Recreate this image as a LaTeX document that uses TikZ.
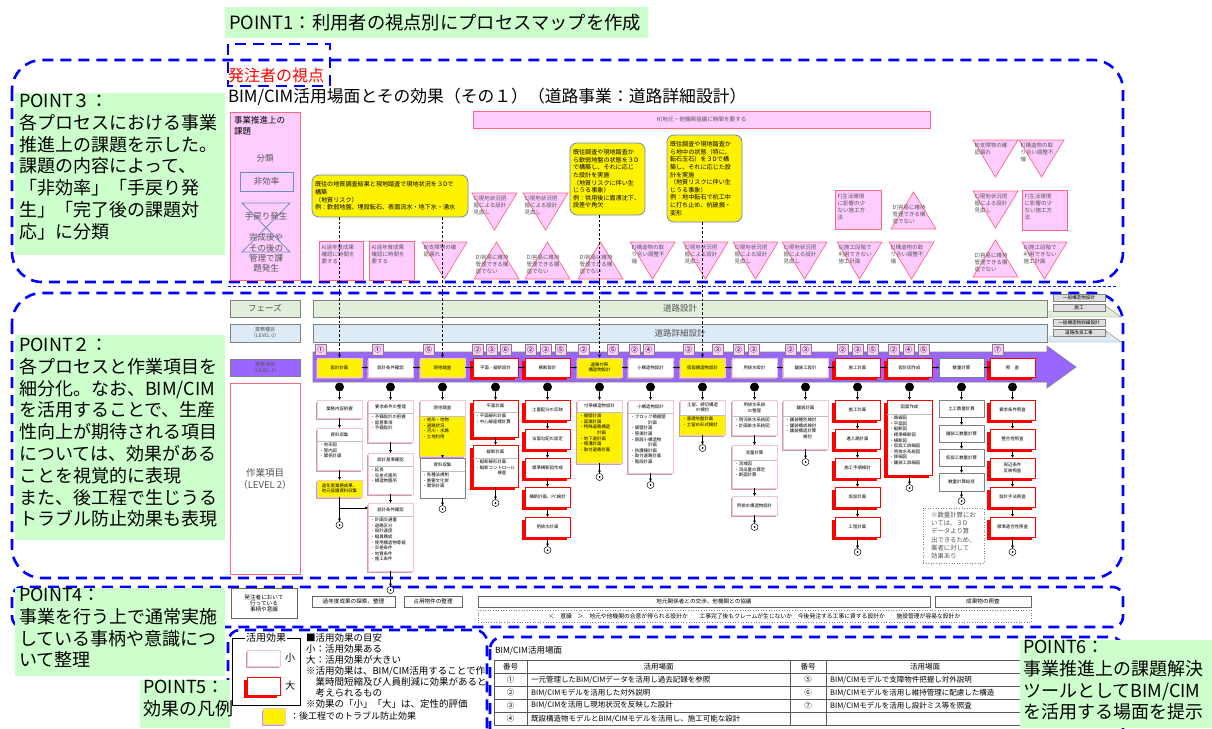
\documentclass[tikz,border=0pt]{standalone}
\usepackage{fontspec}
\setmainfont{Noto Sans CJK JP}
\usetikzlibrary{arrows.meta,shadows,calc}
\definecolor{ptgreen}{HTML}{CCFFCC}
\definecolor{pk}{HTML}{FFCCFF}
\definecolor{pkb}{HTML}{FF6680}
\definecolor{yb}{HTML}{6C8EBF}
\definecolor{purp}{HTML}{9966FF}
\definecolor{phg}{HTML}{E2EFDA}
\definecolor{phb}{HTML}{DDEBF7}
\definecolor{shp}{HTML}{C9A0A8}
\definecolor{lpk}{HTML}{F2C8D0}
\definecolor{ddblue}{HTML}{0000FF}
\definecolor{txg}{HTML}{555555}
\tikzset{
 every node/.style={inner sep=0pt, outer sep=0pt},
 bdash/.style={draw=ddblue, line width=2.6pt, dash pattern=on 11pt off 7pt},
 gtext/.style={anchor=north west, align=left, font=\fontsize{18}{21.8}\selectfont},
 tri/.style={fill=pk, draw=pkb, line width=0.7pt},
 tritext/.style={anchor=north west, align=left, font=\fontsize{5.5}{7}\selectfont, text=txg},
 ybox/.style={fill=yellow, draw=yb, line width=0.8pt, rounded corners=7pt, anchor=north west, align=left, font=\fontsize{6.1}{7.6}\selectfont, inner sep=3pt},
 pboxs/.style={fill=pk, draw=pkb, line width=0.9pt},
 bigb/.style={draw=red, line width=0.8pt, fill=white, drop shadow={shadow xshift=-3pt, shadow yshift=-3pt, fill=red, opacity=1}},
 smlb/.style={draw=lpk, line width=0.6pt, fill=white, drop shadow={shadow xshift=-1.5pt, shadow yshift=-1.5pt, fill=shp, opacity=1}},
 ysmlb/.style={smlb, fill=yellow},
 plnb/.style={draw=gray, line width=0.7pt, fill=white},
 tinyf/.style={font=\fontsize{4.4}{5.6}\selectfont},
 arr/.style={-{Latex[length=3pt,width=3pt]}, line width=0.5pt},
 vdash/.style={-{Latex[length=3.5pt,width=3.5pt]}, line width=0.7pt, dash pattern=on 2.5pt off 2pt},
 tab/.style={fill=pk, draw=gray, line width=0.4pt, anchor=north west, minimum size=11pt, font=\fontsize{7}{7}\selectfont},
 rlab/.style={fill=gray!25, draw=gray, line width=0.4pt, anchor=north west, minimum width=52pt, minimum height=7pt, font=\fontsize{4.6}{5}\selectfont},
 rowbox/.style={draw=gray!80!black, line width=0.6pt, anchor=north west, minimum height=11pt, font=\fontsize{5.6}{6}\selectfont},
}
\newcommand{\lvb}[8]{%
 \node[#1, anchor=north west, minimum width=45pt, minimum height=#5pt] (#2) at (#3,#4) {};
 \draw[gray!50, line width=0.4pt] ($(#2.north west)+(0,#6)$) -- ($(#2.north east)+(0,#6)$);
 \node[tinyf, align=center] (#2h) at ($(#2.north)+(0,#6/2)$) {#7};
 \node[tinyf, anchor=north west, align=left] (#2b) at ($(#2.north west)+(2.5,#6+2)$) {#8};
}
\newcommand{\lvy}[8]{%
 \node[#1, anchor=north west, minimum width=45pt, minimum height=#5pt] (#2) at (#3,#4) {};
 \fill[yellow] ($(#2.north west)+(0.4,#6)$) rectangle ($(#2.south east)+(-0.4,-0.4)$);
 \draw[gray!50, line width=0.4pt] ($(#2.north west)+(0,#6)$) -- ($(#2.north east)+(0,#6)$);
 \node[tinyf, align=center] (#2h) at ($(#2.north)+(0,#6/2)$) {#7};
 \node[tinyf, anchor=north west, align=left] (#2b) at ($(#2.north west)+(2.5,#6+2)$) {#8};
}
\newcommand{\lbx}[6]{%
 \node[#1, anchor=north west, minimum width=45pt, minimum height=#5pt, tinyf, align=center] (#2) at (#3,#4) {#6};
}
\newcommand{\termc}[3]{%
 \node[circle, draw, fill=white, line width=0.5pt, minimum size=7pt] (#1) at (#2,#3) {};
 \fill (#1.center) circle (1pt);
}
\newcommand{\dtri}[4]{%
 \draw[tri] (#2,#3) -- ++(45,0) -- ++(-22.5,37) -- cycle;
 \node[tritext] (#1) at (#2+1.5,#3+2.5) {#4};
}
\newcommand{\utri}[4]{%
 \draw[tri] (#2,#3+37) -- ++(45,0) -- ++(-22.5,-37) -- cycle;
 \node[tritext] (#1) at (#2+1.5,#3+13) {#4};
}
\newcommand{\pkrect}[6]{%
 \node[pboxs, anchor=north west, minimum width=#4pt, minimum height=#5pt] (#1) at (#2,#3) {};
 \node[tritext] (#1t) at ($(#1.north west)+(2.5,4)$) {#6};
}
\begin{document}
\begin{tikzpicture}[x=1pt,y=-1pt]
\useasboundingbox (0,0) rectangle (1212,728);
\fill[white] (0,0) rectangle (1212,728);

% ---------- dashed region frames ----------
\draw[bdash, rounded corners=30pt] (12,60) rectangle (1123,282);
\draw[bdash] (228,44) rectangle (330,86);
\draw[ddblue, densely dashed, line width=0.5pt] (228,286) -- (1118,286);
\draw[bdash, rounded corners=30pt] (12,293) rectangle (1123,578);
\draw[bdash, rounded corners=10pt] (12,587) rectangle (1123,627);
\draw[bdash, rounded corners=12pt] (228,630) rectangle (487,750);
\draw[bdash, rounded corners=12pt] (490,637) rectangle (1123,750);

% ---------- POINT boxes ----------
\fill[ptgreen] (225,7) rectangle (648,38);
\node[anchor=west, font=\fontsize{18.3}{20}\selectfont] (pt1) at (229,22.5) {POINT1：利用者の視点別にプロセスマップを作成};

\fill[ptgreen] (15,93) rectangle (225,255);
\node[gtext] (pt3) at (19,94) {POINT３：\\各プロセスにおける事業\\推進上の課題を示した。\\課題の内容によって、\\「非効率」「手戻り発\\生」「完了後の課題対\\応」に分類};

\fill[ptgreen] (15,335) rectangle (225,540);
\node[gtext] (pt2) at (19,338) {POINT２：\\各プロセスと作業項目を\\細分化。なお、BIM/CIM\\を活用することで、生産\\性向上が期待される項目\\については、効果がある\\ことを視覚的に表現\\また、後工程で生じうる\\トラブル防止効果も表現};

\fill[ptgreen] (15,588) rectangle (225,676);
\node[gtext] (pt4) at (19,588) {POINT4：\\事業を行う上で通常実施\\している事柄や意識につ\\いて整理};

\fill[ptgreen] (140,680) rectangle (230,728);
\node[gtext] (pt5) at (143,680) {POINT5：\\効果の凡例};

% ---------- titles ----------
\node[anchor=west, text=red, font=\fontsize{16}{17}\selectfont] (viewpt) at (228,75) {発注者の視点};
\node[anchor=west, font=\fontsize{16.8}{18}\selectfont] (title) at (228,97) {BIM/CIM活用場面とその効果（その１）（道路事業：道路詳細設計）};

% ---------- issue classification box ----------
\node[pboxs, anchor=north west, minimum width=70pt, minimum height=168pt] (kadai) at (230,112) {};
\node[anchor=north west, align=left, font=\fontsize{8.5}{11}\selectfont] (kadait) at (234,116) {事業推進上の\\課題};
\node[font=\fontsize{8.5}{10}\selectfont, text=txg] (bunrui) at (265,158) {分類};
\node[draw=yb, line width=0.8pt, minimum width=53pt, minimum height=19pt, font=\fontsize{8.5}{10}\selectfont, text=txg] (hikou) at (266.5,181.5) {非効率};
\draw[yb, line width=0.8pt] (242,203) -- (290,203) -- (242,252) -- (290,252) -- cycle;
\node[font=\fontsize{8.5}{10}\selectfont, text=txg] (temodori) at (266,216) {手戻り発生};
\node[align=center, font=\fontsize{8.5}{10.2}\selectfont, text=txg] (kansei) at (266,253) {完成後や\\その後の\\管理で課\\題発生};

\node[pboxs, anchor=north west, minimum width=457pt, minimum height=17pt, font=\fontsize{5.6}{6}\selectfont, text=txg] (hbox) at (473,111) {H)地元・他機関協議に時間を要する};

% yellow risk boxes
\node[ybox, minimum width=156pt, minimum height=42pt, text width=150pt] (yb1) at (312,175) {既往の地質調査結果と現地踏査で現地状況を３Dで\\構築\\（地質リスク）\\例：軟弱地盤、埋設転石、表面流水・地下水・湧水};
\node[ybox, minimum width=75pt, minimum height=72pt, text width=69pt] (yb2) at (570,143) {既往調査や現地踏査か\\ら軟弱地盤の状態を３D\\で構築し、それに応じ\\た設計を実施\\（地質リスクに伴い生\\じうる事象）\\例：供用後に面漂沈下、\\段差や角欠};
\node[ybox, minimum width=75pt, minimum height=87pt, text width=69pt] (yb3) at (667,135) {既往調査や現地踏査か\\ら地中の状態（特に、\\転石玉石）を３Dで構\\築し、それに応じた設\\計を実施\\（地質リスクに伴い生\\じうる事象）\\例：地中転石で杭工中\\に打ち止め、杭破損・\\変形};

% triangles and pink boxes: top row
\dtri{tB2}{973}{140}{B)支障物の確\\認漏れ}
\dtri{tE4}{1019}{140}{E)構造物の取\\り合い調整不\\備}
% middle row
\dtri{tC1}{472}{193}{C)現地状況把\\握による設計\\見直し}
\dtri{tC2}{523}{193}{C)現地状況把\\握による設計\\見直し}
\pkrect{fF1}{835}{190}{46}{39}{F)生活環境\\に影響の少\\ない施工方\\法}
\utri{tD4}{891}{192}{D)容易に維持\\管理できる構\\造でない}
\dtri{tC6}{973}{191}{C)現地状況把\\握による設計\\見直し}
\pkrect{fF2}{1022}{190}{45}{40}{F)生活環境\\に影響の少\\ない施工方\\法}
% bottom row
\pkrect{aA1}{319}{241}{44}{39}{A)過年度成果\\確認に時間を\\要する}
\pkrect{aA2}{369}{241}{45}{39}{A)過年度成果\\確認に時間を\\要する}
\dtri{tB1}{422}{242}{B)支障物の確\\認漏れ}
\utri{tD1}{474}{242}{D)容易に維持\\管理できる構\\造でない}
\utri{tD2}{525}{242}{D)容易に維持\\管理できる構\\造でない}
\utri{tD3}{578}{242}{D)容易に維持\\管理できる構\\造でない}
\dtri{tE1}{630}{242}{E)構造物の取\\り合い調整不\\備}
\dtri{tC3}{683}{242}{C)現地状況把\\握による設計\\見直し}
\dtri{tC4}{733}{242}{C)現地状況把\\握による設計\\見直し}
\dtri{tC5}{782}{242}{C)現地状況把\\握による設計\\見直し}
\dtri{tG1}{837}{242}{G)施工段階で\\利用できない\\施工計画}
\dtri{tE2}{889}{242}{E)構造物の取\\り合い調整不\\備}
\utri{tD5}{973}{240}{D)容易に維持\\管理できる構\\造でない}
\dtri{tG2}{1022}{242}{G)施工段階で\\利用できない\\施工計画}

% ---------- phase rows ----------
\node[fill=phg, draw=gray, line width=0.7pt, anchor=north west, minimum width=70pt, minimum height=17pt, font=\fontsize{8.5}{9}\selectfont, text=txg] (phase) at (230,300) {フェーズ};
\node[fill=phg, draw=gray, line width=0.7pt, anchor=north west, minimum width=734pt, minimum height=17pt, font=\fontsize{8.5}{9}\selectfont, text=txg] (phasebar) at (313,300) {道路設計};
\node[fill=phb, draw=gray, line width=0.7pt, anchor=north west, minimum width=70pt, minimum height=18pt, align=center, font=\fontsize{5}{6}\selectfont, text=txg] (lv0) at (230,324) {業務種目\\（LEVEL 0）};
\node[fill=phb, draw=gray, line width=0.7pt, anchor=north west, minimum width=734pt, minimum height=18pt, font=\fontsize{8.5}{9}\selectfont, text=txg] (lv0bar) at (313,324) {道路詳細設計};
\node[fill=purp, draw=gray, line width=0.7pt, anchor=north west, minimum width=70pt, minimum height=17pt, align=center, font=\fontsize{5}{6}\selectfont, text=txg] (lv1) at (230,359) {業務項目\\（LEVEL 1）};
\node[draw=pkb, line width=0.9pt, fill=white, anchor=north west, minimum width=70pt, minimum height=191pt, align=center, font=\fontsize{9.5}{12}\selectfont, text=txg] (lv2) at (230,383) {作業項目\\（LEVEL 2）};

% right side labels
\fill[phg, draw=gray, line width=0.4pt] (1049,311) -- (1106,311) -- (1106,306) -- (1121,317) -- (1049,317) -- cycle;
\node[rlab] (r1) at (1053,294) {一般構造物設計};
\node[rlab] (r2) at (1053,304) {施工};
\fill[phb, draw=gray, line width=0.4pt] (1049,336) -- (1106,336) -- (1106,331) -- (1121,342) -- (1049,342) -- cycle;
\node[rlab] (r3) at (1053,319) {一般構造物詳細設計};
\node[rlab] (r4) at (1053,329) {道路改良工事};

% ---------- purple process arrow ----------
\draw[fill=purp, draw=gray, line width=0.6pt] (313,352) -- (1047,352) -- (1047,346) -- (1076,367) -- (1047,388) -- (1047,382) -- (313,382) -- cycle;

\node[ysmlb, anchor=north west, minimum width=45pt, minimum height=19pt, tinyf, align=center] (p1) at (317,358) {設計計画};
\node[smlb, anchor=north west, minimum width=45pt, minimum height=19pt, tinyf, align=center] (p2) at (368,358) {設計条件確認};
\node[ysmlb, anchor=north west, minimum width=45pt, minimum height=19pt, tinyf, align=center] (p3) at (420,358) {現地踏査};
\node[bigb, anchor=north west, minimum width=45pt, minimum height=19pt, tinyf, align=center] (p4) at (473,358) {平面・縦断設計};
\node[bigb, anchor=north west, minimum width=45pt, minimum height=19pt, tinyf, align=center] (p5) at (525,358) {横断設計};
\node[ysmlb, anchor=north west, minimum width=45pt, minimum height=19pt, tinyf, align=center] (p6) at (577,358) {道路付帯\\構造物設計};
\node[smlb, anchor=north west, minimum width=45pt, minimum height=19pt, tinyf, align=center] (p7) at (628,358) {小構造物設計};
\node[ysmlb, anchor=north west, minimum width=45pt, minimum height=19pt, tinyf, align=center] (p8) at (680,358) {仮設構造物設計};
\node[smlb, anchor=north west, minimum width=45pt, minimum height=19pt, tinyf, align=center] (p9) at (732,358) {用排水設計};
\node[smlb, anchor=north west, minimum width=45pt, minimum height=19pt, tinyf, align=center] (p10) at (783,358) {舗装工設計};
\node[bigb, anchor=north west, minimum width=45pt, minimum height=19pt, tinyf, align=center] (p11) at (835,358) {施工計画};
\node[bigb, anchor=north west, minimum width=45pt, minimum height=19pt, tinyf, align=center] (p12) at (887,358) {設計図作成};
\node[plnb, anchor=north west, minimum width=45pt, minimum height=19pt, tinyf, align=center] (p13) at (939,358) {数量計算};
\node[bigb, anchor=north west, minimum width=45pt, minimum height=19pt, tinyf, align=center] (p14) at (990,358) {照　査};
\foreach \a/\b in {1/2,2/3,3/4,4/5,5/6,6/7,7/8,8/9,9/10,10/11,11/12,12/13,13/14}
 \draw[-{Latex[length=2.5pt,width=2.5pt]}, line width=0.6pt] (p\a.east) -- (p\b.west);

% tabs
\node[tab] (t1a) at (315,344) {①};
\node[tab] (t2a) at (372,344) {①};
\node[tab] (t3a) at (423,344) {⑤};
\node[tab] (t4a) at (472,344) {②};
\node[tab] (t4b) at (486,344) {③};
\node[tab] (t4c) at (500,344) {⑥};
\node[tab] (t5a) at (525,344) {②};
\node[tab] (t5b) at (540,344) {③};
\node[tab] (t5c) at (555,344) {⑤};
\node[tab] (t6a) at (578,344) {②};
\node[tab] (t6b) at (607,344) {⑤};
\node[tab] (t7a) at (629,344) {②};
\node[tab] (t7b) at (643,344) {④};
\node[tab] (t8a) at (683,344) {②};
\node[tab] (t8b) at (712,344) {③};
\node[tab] (t9a) at (733,344) {②};
\node[tab] (t9b) at (748,344) {③};
\node[tab] (t10a) at (785,344) {②};
\node[tab] (t10b) at (800,344) {③};
\node[tab] (t11a) at (837,344) {②};
\node[tab] (t11b) at (852,344) {③};
\node[tab] (t11c) at (867,344) {⑤};
\node[tab] (t12a) at (888,344) {②};
\node[tab] (t12b) at (903,344) {④};
\node[tab] (t12c) at (918,344) {⑤};
\node[tab] (t14a) at (992,344) {⑦};

% dashed links from risk boxes
\draw[vdash] (yb1.south -| p1.north) -- (p1.north);
\draw[vdash] (yb1.south -| p3.north) -- (p3.north);
\draw[vdash] (yb2.south -| p6.north) -- (p6.north);
\draw[vdash] (yb3.south -| p8.north) -- (p8.north);

% black dots
\foreach \i in {1,...,14}
 \node[circle, fill=black, minimum size=9pt] (d\i) at ($(p\i.south)+(0,10)$) {};

% ---------- level 2 columns ----------
% col 1
\lbx{smlb}{c1a}{317}{400}{18}{業務内容把握}
\lvb{smlb}{c1b}{317}{428}{42}{13}{資料収集}{・地形図\\・管内図\\・関係計画}
\lbx{ysmlb}{c1c}{317}{480}{17}{過年度業務成果、\\地元協議資料収集}
\draw[arr] (d1.south) -- (c1a.north);
\draw[arr] (c1a.south) -- (c1b.north);
\draw[arr] (c1b.south) -- (c1c.north);
\coordinate (j1) at ($(c1c.south)+(0,11)$);
\termc{e1}{339.5}{525}
\draw[line width=0.5pt] (c1c.south) -- (j1);
\draw[arr] (j1) -- (e1.north);
% col 2
\lvb{smlb}{c2a}{368}{400}{42}{13}{要求条件の整理}{・予備設計の把握\\・留意事項\\・予備設計}
\lvb{smlb}{c2b}{368}{453}{41}{13}{設計基準確認}{・延長\\・交差点箇所\\・構造物箇所}
\lvb{smlb}{c2c}{368}{503}{68}{13}{設計条件確認}{・計画交通量\\・道路区分\\・設計速度\\・幅員構成\\・使用構造物等値\\・交差条件\\・地質条件\\・施工条件}
\draw[arr] (j1) -- (j1 -| c2c.west);
\draw[arr] (d2.south) -- (c2a.north);
\draw[arr] (c2a.south) -- (c2b.north);
\draw[arr] (c2b.south) -- (c2c.north);
\termc{e2}{390.5}{590}
\draw[arr] (c2c.south) -- (e2.north);
% col 3
\lvy{smlb}{c3a}{420}{400}{56}{16}{現地踏査}{・地形・地物\\・道路状況\\・河川・水路\\・土地利用}
\lvb{plnb}{c3b}{420}{458}{40}{13}{資料収集}{・各種法規制\\・重要文化財\\・関係計画}
\termc{e3}{442.5}{509}
\draw[arr] (d3.south) -- (c3a.north);
\draw[arr] (c3a.south) -- (c3b.north);
\draw[arr] (c3b.south) -- (e3.north);
% col 4
\lvb{bigb}{c4a}{473}{400}{37}{12}{平面計画}{・平面線形計画\\・中心線座標計算}
\lvb{bigb}{c4b}{473}{445}{42}{13}{縦断計画}{・縦断線形計画\\・縦断コントロール\\　　　　　検査}
\termc{e4}{495.5}{503}
\draw[arr] (d4.south) -- (c4a.north);
\draw[arr] (c4a.south) -- (c4b.north);
\draw[arr] (c4b.south) -- (e4.north);
% col 5
\lbx{bigb}{c5a}{525}{400}{20}{土量配分の反映}
\lbx{bigb}{c5b}{525}{429}{20}{法面勾配の設定}
\lbx{bigb}{c5c}{525}{458}{20}{標準横断図作成}
\lbx{bigb}{c5d}{525}{487}{20}{横断計画、PC検討}
\lbx{bigb}{c5e}{525}{517}{20}{用排水計画}
\termc{e5}{547.5}{550}
\draw[arr] (d5.south) -- (c5a.north);
\draw[arr] (c5a.south) -- (c5b.north);
\draw[arr] (c5b.south) -- (c5c.north);
\draw[arr] (c5c.south) -- (c5d.north);
\draw[arr] (c5d.south) -- (c5e.north);
\draw[arr] (c5e.south) -- (e5.north);
% col 6
\lvy{smlb}{c6a}{577}{400}{63}{12}{付帯構造物設計}{・擁壁計画\\・函渠計画\\・特殊道路構造\\　　　　計画\\・地下道計画\\・側溝計画\\・取付道路計画}
\termc{e6}{599.5}{477}
\draw[arr] (d6.south) -- (c6a.north);
\draw[arr] (c6a.south) -- (e6.north);
% col 7
\lvb{smlb}{c7a}{628}{400}{73}{13}{小構造物設計}{・ブロック積擁壁\\　　　　計画\\・擁壁計画\\・管渠計画\\・既設小構造物\\　　　　計画\\・防護柵計画\\・取付道路計画\\・階段計画}
\termc{e7}{650.5}{485}
\draw[arr] (d7.south) -- (c7a.north);
\draw[arr] (c7a.south) -- (e7.north);
% col 8
\lvy{smlb}{c8a}{680}{400}{35}{15}{土留、締切構造\\の検討}{・基礎地盤計画\\・土留め形式検討}
\termc{e8}{702.5}{448}
\draw[arr] (d8.south) -- (c8a.north);
\draw[arr] (c8a.south) -- (e8.north);
% col 9
\lvb{smlb}{c9a}{732}{400}{35}{16}{用排水系統\\の整理}{・現況排水系統図\\・計画排水系統図}
\lvb{smlb}{c9b}{732}{445}{43}{15}{流量計算}{・流域図\\・流出量の算定\\・断面計算}
\lbx{smlb}{c9c}{732}{496}{19}{用排水構造物設計}
\termc{e9}{754.5}{527}
\draw[arr] (d9.south) -- (c9a.north);
\draw[arr] (c9a.south) -- (c9b.north);
\draw[arr] (c9b.south) -- (c9c.north);
\draw[arr] (c9c.south) -- (e9.north);
% col 10
\lvb{smlb}{c10a}{783}{400}{49}{16}{舗装計画}{・舗装種別検討\\・舗装構成検討\\・舗装構造計算\\　　　　検討}
\termc{e10}{805.5}{462}
\draw[arr] (d10.south) -- (c10a.north);
\draw[arr] (c10a.south) -- (e10.north);
% col 11
\lbx{bigb}{c11a}{835}{400}{20}{施工計画}
\lbx{bigb}{c11b}{835}{429}{20}{進入路計画}
\lbx{bigb}{c11c}{835}{458}{20}{施工手順検討}
\lbx{bigb}{c11d}{835}{487}{20}{仮設計画}
\lbx{bigb}{c11e}{835}{517}{20}{工程計画}
\termc{e11}{857.5}{552}
\draw[arr] (d11.south) -- (c11a.north);
\draw[arr] (c11a.south) -- (c11b.north);
\draw[arr] (c11b.south) -- (c11c.north);
\draw[arr] (c11c.south) -- (c11d.north);
\draw[arr] (c11d.south) -- (c11e.north);
\draw[arr] (c11e.south) -- (e11.north);
% col 12
\lvb{bigb}{c12a}{887}{400}{75}{14}{図面作成}{・路線図\\・平面図\\・縦断図\\・標準横断図\\・横断図\\・仮設工詳細図\\・用排水系統図\\・詳細図\\・舗装工詳細図}
\termc{e12}{909.5}{488}
\draw[arr] (d12.south) -- (c12a.north);
\draw[arr] (c12a.south) -- (e12.north);
% col 13
\lbx{plnb}{c13a}{939}{400}{17}{土工数量計算}
\lbx{plnb}{c13b}{939}{425}{17}{舗装工数量計算}
\lbx{plnb}{c13c}{939}{449}{17}{仮設工数量計算}
\lbx{plnb}{c13d}{939}{473}{18}{数量計算総括}
\termc{e13}{961.5}{501}
\draw[arr] (d13.south) -- (c13a.north);
\draw[arr] (c13a.south) -- (c13b.north);
\draw[arr] (c13b.south) -- (c13c.north);
\draw[arr] (c13c.south) -- (c13d.north);
\draw[arr] (c13d.south) -- (e13.north);
\node[draw=gray, dotted, line width=0.6pt, anchor=north west, minimum width=61pt, minimum height=55pt, inner sep=3pt, align=left, font=\fontsize{6.4}{8.3}\selectfont, text=txg] (note) at (923,508) {※数量計算にお\\いては、３D\\データより算\\出できるため、\\業者に対して\\効果あり};
% col 14
\lbx{bigb}{c14a}{990}{400}{20}{要求条件照査}
\lbx{bigb}{c14b}{990}{429}{20}{整合性照査}
\lbx{bigb}{c14c}{990}{458}{20}{周辺条件\\反映照査}
\lbx{bigb}{c14d}{990}{487}{20}{設計手法照査}
\lbx{bigb}{c14e}{990}{517}{20}{標準適合性照査}
\termc{e14}{1012.5}{552}
\draw[arr] (d14.south) -- (c14a.north);
\draw[arr] (c14a.south) -- (c14b.north);
\draw[arr] (c14b.south) -- (c14c.north);
\draw[arr] (c14c.south) -- (c14d.north);
\draw[arr] (c14d.south) -- (c14e.north);
\draw[arr] (c14e.south) -- (e14.north);

% ---------- POINT4 row ----------
\node[rowbox, minimum width=66pt, minimum height=30pt, align=center, fill=white] (hatchu) at (231,588) {発注者において\\行っている\\事柄や意識};
\node[rowbox, minimum width=83pt, fill=white] (kako) at (312,596) {過年度成果の探索、整理};
\node[rowbox, minimum width=58pt, fill=white] (senyo) at (404,596) {占用物件の整理};
\node[rowbox, minimum width=452pt, fill=white] (jimoto) at (478,596) {地元関係者との交渉、他機関との協議};
\node[rowbox, minimum width=96pt, fill=white] (seika) at (935,596) {成果物の照査};
\node[draw=gray, dotted, line width=0.6pt, anchor=north west, minimum width=553pt, minimum height=12pt, font=\fontsize{5.8}{6}\selectfont, fill=white] (ishiki) at (478,610) {＜　意識　＞　地元や他機関の合意が得られる設計か　　工事完了後もクレームが生じないか　今後発注する工事に資する設計か　　施設管理が容易な設計か};

% ---------- legend ----------
\draw[line width=0.8pt] (232,638) rectangle (300,705);
\node[fill=white, inner sep=1pt, font=\fontsize{10}{10}\selectfont] (lgtitle) at (266,638) {活用効果};
\node[smlb, anchor=north west, minimum width=33pt, minimum height=16pt] (lgs) at (247,650) {};
\node[font=\fontsize{10}{10}\selectfont] (lgst) at (290,658) {小};
\node[bigb, anchor=north west, minimum width=33pt, minimum height=18pt] (lgb) at (247,677) {};
\node[font=\fontsize{10}{10}\selectfont] (lgbt) at (290,686) {大};
\node[ysmlb, anchor=north west, minimum width=22pt, minimum height=16pt] (lgy) at (263,708) {};
\node[anchor=west, font=\fontsize{9}{10}\selectfont] (lgyt) at (290,716) {：後工程でのトラブル防止効果};
\node[anchor=north west, align=left, font=\fontsize{9.5}{10.9}\selectfont] (lgtext) at (306,634) {■活用効果の目安\\小：活用効果ある\\大：活用効果が大きい\\※活用効果は、BIM/CIM活用することで作\\　業時間短縮及び人員削減に効果があると\\　考えられるもの\\※効果の「小」「大」は、定性的評価};

% ---------- table ----------
\node[anchor=west, font=\fontsize{8.5}{9}\selectfont] (tbltitle) at (495,651) {BIM/CIM活用場面};
\draw[gray!70!black, line width=0.5pt] (494,660) rectangle (1025,725);
\foreach \yy in {673,686,699,712} \draw[gray!70!black, line width=0.5pt] (494,\yy) -- (1025,\yy);
\foreach \xx in {527,790,826} \draw[gray!70!black, line width=0.5pt] (\xx,660) -- (\xx,725);
\begin{scope}[every node/.style={font=\fontsize{7.5}{8}\selectfont, inner sep=0pt}]
\node (th1) at (510.5,666.5) {番号};
\node (th2) at (658.5,666.5) {活用場面};
\node (th3) at (808,666.5) {番号};
\node (th4) at (925,666.5) {活用場面};
\node (n1) at (510.5,679.5) {①};
\node (n2) at (510.5,692.5) {②};
\node (n3) at (510.5,705.5) {③};
\node (n4) at (510.5,718.5) {④};
\node[anchor=west] (s1) at (531,679.5) {一元管理したBIM/CIMデータを活用し過去記録を参照};
\node[anchor=west] (s2) at (531,692.5) {BIM/CIMモデルを活用した対外説明};
\node[anchor=west] (s3) at (531,705.5) {BIM/CIMを活用し現地状況を反映した設計};
\node[anchor=west] (s4) at (531,718.5) {既設構造物モデルとBIM/CIMモデルを活用し、施工可能な設計};
\node (n5) at (808,679.5) {⑤};
\node (n6) at (808,692.5) {⑥};
\node (n7) at (808,705.5) {⑦};
\node[anchor=west] (s5) at (830,679.5) {BIM/CIMモデルで支障物件把握し対外説明};
\node[anchor=west] (s6) at (830,692.5) {BIM/CIMモデルを活用し維持管理に配慮した構造};
\node[anchor=west] (s7) at (830,705.5) {BIM/CIMモデルを活用し設計ミス等を照査};
\end{scope}
\fill[ptgreen] (1020,640) rectangle (1212,728);
\node[gtext] (pt6) at (1023,640) {POINT6：\\事業推進上の課題解決\\ツールとしてBIM/CIM\\を活用する場面を提示};
\end{tikzpicture}
\end{document}
